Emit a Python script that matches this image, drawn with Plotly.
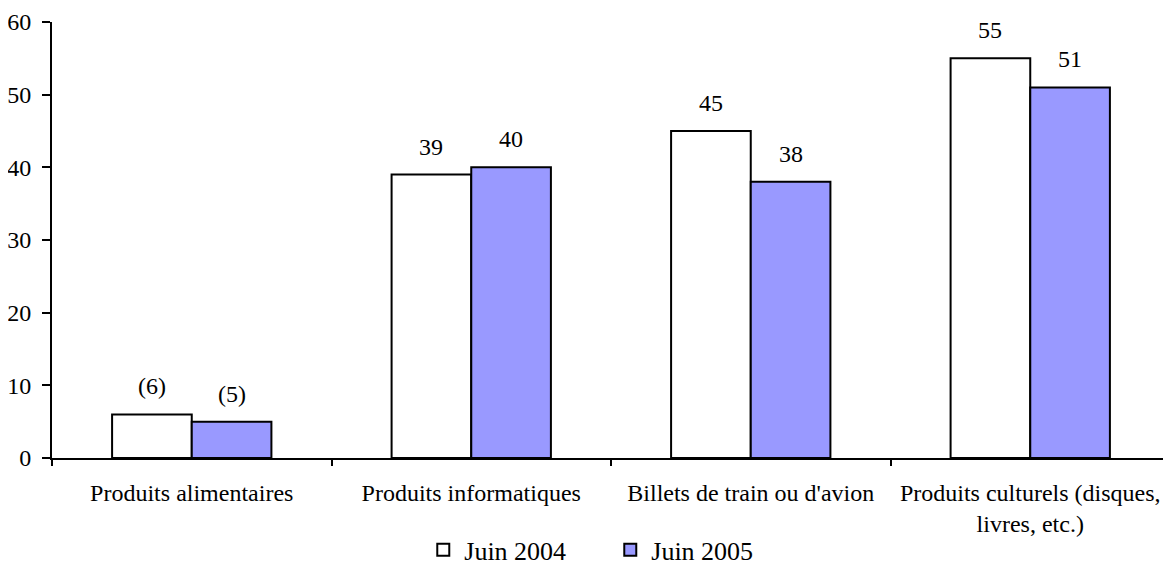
import plotly.graph_objects as go

categories = ["Produits alimentaires", "Produits informatiques",
              "Billets de train ou d'avion", "Produits culturels (disques,<br>livres, etc.)"]
juin_2004 = [6, 39, 45, 55]
juin_2005 = [5, 40, 38, 51]
labels_2004 = ["(6)", "39", "45", "55"]
labels_2005 = ["(5)", "40", "38", "51"]

FONT = "Liberation Serif"

fig = go.Figure()
fig.add_trace(go.Bar(x=categories, y=juin_2004, name="Juin 2004",
                     marker=dict(color="white", line=dict(color="black", width=2))))
fig.add_trace(go.Bar(x=categories, y=juin_2005, name="Juin 2005",
                     marker=dict(color="#9999FF", line=dict(color="black", width=2))))

# value labels, shifted over each bar of the group
for cat, v, t in zip(categories, juin_2004, labels_2004):
    fig.add_annotation(x=cat, y=v, text=t, showarrow=False, xshift=-40, yshift=13,
                       yanchor="bottom", font=dict(size=24, color="black", family=FONT))
for cat, v, t in zip(categories, juin_2005, labels_2005):
    fig.add_annotation(x=cat, y=v, text=t, showarrow=False, xshift=40, yshift=13,
                       yanchor="bottom", font=dict(size=24, color="black", family=FONT))

# the page body has an 8px margin, so the figure is sized to fit inside it
fig.update_layout(
    barmode="group",
    bargap=0.43,
    bargroupgap=0,
    width=1163, height=557,
    margin=dict(l=44, r=1, t=14, b=107),
    plot_bgcolor="white",
    paper_bgcolor="white",
    font=dict(family=FONT, size=24, color="black"),
    showlegend=True,
    legend=dict(orientation="h", x=0.517, xanchor="center", xref="container",
                y=0.027, yanchor="middle", yref="container",
                font=dict(size=26), itemwidth=32, entrywidth=140, tracegroupgap=0),
    xaxis=dict(showline=True, linecolor="black", linewidth=2, ticks="outside",
               tickson="boundaries", ticklen=6, tickwidth=2, tickcolor="black",
               ticklabelstandoff=12, automargin=False),
    yaxis=dict(range=[0, 60], dtick=10, showline=True, linecolor="black", linewidth=2,
               ticks="outside", ticklen=8, tickwidth=2, tickcolor="black",
               ticklabelstandoff=6, showgrid=False, zeroline=False, automargin=False),
)

fig.write_html("out.html")
